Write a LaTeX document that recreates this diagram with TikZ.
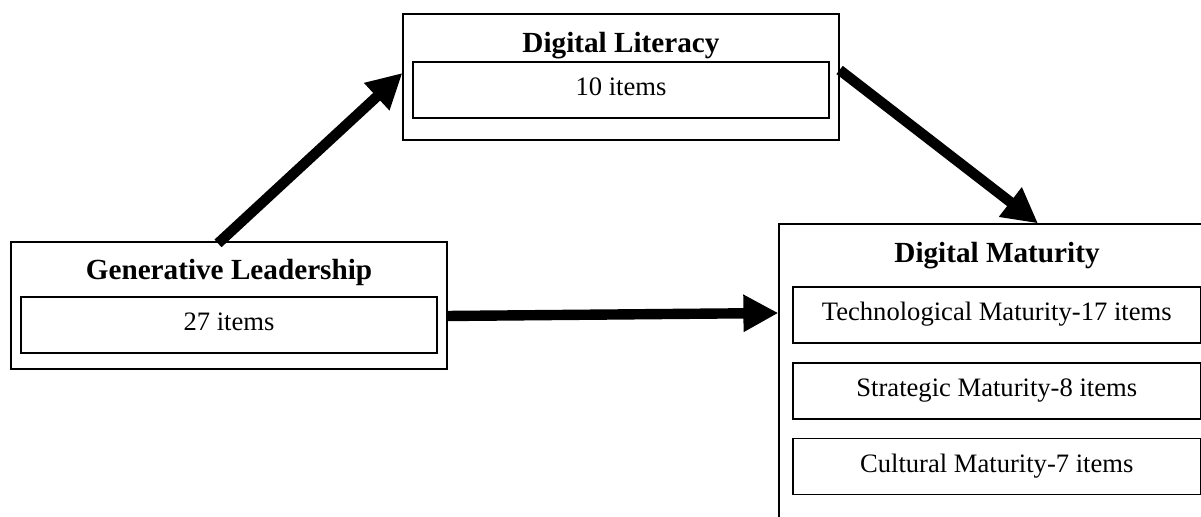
\documentclass[tikz,border=0pt]{standalone}
\usepackage{fontspec}
\setmainfont{Liberation Serif}
\usetikzlibrary{arrows.meta,calc}
\begin{document}
\begin{tikzpicture}[x=0.5pt,y=-0.5pt,
  outerbox/.style={draw=black,line width=0.6pt,minimum width=218pt,inner sep=0pt},
  innerbox/.style={draw=black,line width=0.6pt,minimum width=208pt,minimum height=28pt,inner sep=0pt,
    text height=0.69em,text depth=0.12em,font=\fontsize{13.3}{15}\selectfont},
  titletext/.style={anchor=base,inner sep=0pt,font=\fontsize{14.6}{17}\selectfont\bfseries},
  bigarrow/.style={line width=5.2pt,-{Triangle[length=17.5pt,width=17.5pt]}}]
\useasboundingbox (0,0) rectangle (1201,517);
\clip (0,0) rectangle (1201,517);
% Generative Leadership
\node[outerbox,minimum height=63.5pt] (gl) at (229,305.5) {};
\node[innerbox] (gli) at (229,325) {27 items};
\node[titletext] (glt) at (229,280) {Generative Leadership};
% Digital Literacy
\node[outerbox,minimum height=63pt] (dl) at (621,77) {};
\node[innerbox] (dli) at (621,90) {10 items};
\node[titletext] (dlt) at (621,53) {Digital Literacy};
% Digital Maturity
\node[outerbox,minimum height=153pt] (dm) at (997,377) {};
\node[titletext] (dmt) at (997,263) {Digital Maturity};
\node[innerbox,minimum width=203.75pt] (tech) at (996.75,315) {Technological Maturity-17 items};
\node[innerbox,minimum width=203.75pt] (strat) at (996.75,391) {Strategic Maturity-8 items};
\node[innerbox,minimum width=203.75pt] (cult) at (996.75,466.5) {Cultural Maturity-7 items};
% arrows
\draw[bigarrow] ([xshift=-5.5pt,yshift=-1pt]gl.north) -- ([yshift=2pt]dl.west);
\draw[bigarrow] ([yshift=3.5pt]dl.east) -- ([xshift=20.5pt]dm.north);
\draw[bigarrow] ([yshift=-5.25pt]gl.east) -- ($(dm.west |- tech.center)+(0,-2)$);
\end{tikzpicture}
\end{document}
